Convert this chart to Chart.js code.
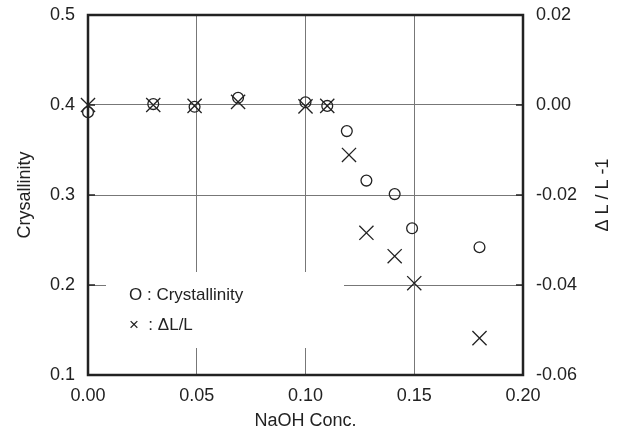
<!DOCTYPE html>
<html>
<head>
<meta charset="utf-8">
<script src="https://cdn.jsdelivr.net/npm/chart.js@4"></script>
<style>
  html, body { margin: 0; padding: 0; background: #fff; }
  #wrap { width: 624px; height: 437px; }
</style>
</head>
<body>
<div id="wrap"><canvas id="chart" width="624" height="437"></canvas></div>
<script>
// NaOH concentration for each measurement
const concCryst = [0, 0.03, 0.049, 0.069, 0.1, 0.11, 0.119, 0.128, 0.141, 0.149, 0.18];
const crystallinity = [0.392, 0.401, 0.398, 0.408, 0.403, 0.399, 0.371, 0.316, 0.301, 0.263, 0.242];

const concDL = [0, 0.03, 0.049, 0.069, 0.1, 0.11, 0.12, 0.128, 0.141, 0.15, 0.18];
const deltaL = [0.0, 0.0, -0.0002, 0.0007, -0.0003, -0.0002, -0.0111, -0.0284, -0.0336, -0.0396, -0.0518];

const legendLines = ['O : Crystallinity', '\u00d7  : \u0394L/L'];
const rightTitle = '\u0394 L / L -1';

const FONT = '"Liberation Sans", Arial, Helvetica, sans-serif';
const INK = '#222';

const frame = {
    id: 'frame',
    beforeDatasetsDraw(chart) {
        const { ctx, chartArea: a } = chart;
        // white legend box hides the grid behind it
        ctx.save();
        ctx.fillStyle = '#fff';
        ctx.fillRect(a.left + 18, a.bottom - 103, 238, 76);
        ctx.fillStyle = INK;
        ctx.font = '17px ' + FONT;
        ctx.textBaseline = 'middle';
        ctx.fillText(legendLines[0], a.left + 41, a.bottom - 80);
        ctx.fillText(legendLines[1], a.left + 41, a.bottom - 50);
        ctx.restore();
    },
    afterDraw(chart) {
        const { ctx, chartArea: a } = chart;
        ctx.save();
        ctx.strokeStyle = INK;
        ctx.lineWidth = 2.5;
        ctx.strokeRect(a.left, a.top, a.right - a.left, a.bottom - a.top);
        // inward ticks
        ctx.lineWidth = 1.5;
        const y = chart.scales.y, y1 = chart.scales.y1;
        y.ticks.forEach(t => {
            const p = y.getPixelForValue(t.value);
            ctx.beginPath(); ctx.moveTo(a.left, p); ctx.lineTo(a.left + 7, p); ctx.stroke();
        });
        y1.ticks.forEach(t => {
            const p = y1.getPixelForValue(t.value);
            ctx.beginPath(); ctx.moveTo(a.right, p); ctx.lineTo(a.right - 7, p); ctx.stroke();
        });
        // right axis title, reading bottom to top
        ctx.translate(603, (a.top + a.bottom) / 2);
        ctx.rotate(-Math.PI / 2);
        ctx.fillStyle = INK;
        ctx.font = '18px ' + FONT;
        ctx.textAlign = 'center';
        ctx.textBaseline = 'middle';
        ctx.fillText(rightTitle, 0, 0);
        ctx.restore();
    }
};

const noVPad = s => { s.paddingTop = 0; s.paddingBottom = 0; };

new Chart(document.getElementById('chart'), {
    type: 'scatter',
    data: {
        datasets: [
            {
                label: 'Crystallinity',
                data: concCryst.map((x, i) => ({ x, y: crystallinity[i] })),
                yAxisID: 'y',
                order: 2,
                pointStyle: 'circle',
                pointRadius: 5.4,
                pointBorderWidth: 1.3,
                borderColor: INK,
                backgroundColor: 'rgba(255,255,255,0)',
                clip: false
            },
            {
                label: '\u0394L/L',
                data: concDL.map((x, i) => ({ x, y: deltaL[i] })),
                yAxisID: 'y1',
                order: 1,
                pointStyle: 'crossRot',
                pointRadius: 10,
                pointBorderWidth: 1.3,
                borderColor: INK,
                backgroundColor: INK,
                clip: false
            }
        ]
    },
    options: {
        responsive: false,
        animation: false,
        layout: { padding: { top: 15, left: 0, right: 0, bottom: 0 } },
        plugins: { legend: { display: false }, tooltip: { enabled: false } },
        scales: {
            x: {
                type: 'linear', min: 0, max: 0.2,
                afterFit: s => { s.height = 62; s.paddingLeft = 0; s.paddingRight = 0; },
                ticks: { stepSize: 0.05, padding: 10, color: INK, font: { family: FONT, size: 18 },
                         callback: v => v.toFixed(2) },
                grid: { color: '#777', lineWidth: 1, drawTicks: false },
                border: { display: false },
                title: { display: true, text: 'NaOH Conc.', color: INK, font: { family: FONT, size: 18 },
                         padding: { top: 6, bottom: 5 } }
            },
            y: {
                type: 'linear', position: 'left', min: 0.1, max: 0.5,
                afterFit: s => { s.width = 88; noVPad(s); },
                ticks: { stepSize: 0.1, padding: 13, color: INK, font: { family: FONT, size: 18 },
                         callback: v => v.toFixed(1) },
                grid: { color: '#777', lineWidth: 1, drawTicks: false },
                border: { display: false },
                title: { display: true, text: 'Crysallinity', color: INK, font: { family: FONT, size: 18 },
                         padding: { top: 14, bottom: 0 } }
            },
            y1: {
                type: 'linear', position: 'right', min: -0.06, max: 0.02,
                afterFit: s => { s.width = 101; noVPad(s); },
                ticks: { stepSize: 0.02, padding: 13, color: INK, font: { family: FONT, size: 18 },
                         callback: v => v.toFixed(2) },
                grid: { drawOnChartArea: false, drawTicks: false },
                border: { display: false }
            }
        }
    },
    plugins: [frame]
});
</script>
</body>
</html>
